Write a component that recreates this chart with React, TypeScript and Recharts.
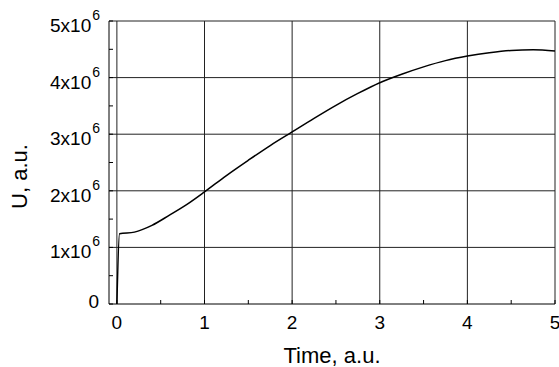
import { LineChart, Line, XAxis, YAxis, ReferenceLine } from 'recharts'

// time axis (a.u.) and signal U (units of 1e6)
const times = [0, 0.03, 0.2, 0.4, 0.6, 0.8, 1.0, 1.25, 1.5, 1.75, 2.0, 2.25, 2.5, 2.75, 3.0, 3.25, 3.5, 3.75, 4.0, 4.25, 4.5, 4.75, 5.0]
const uMillions = [0, 1.24, 1.27, 1.39, 1.57, 1.76, 1.98, 2.27, 2.54, 2.8, 3.04, 3.28, 3.51, 3.72, 3.91, 4.06, 4.19, 4.3, 4.38, 4.44, 4.48, 4.49, 4.47]

const xTicks = [0, 0.5, 1, 1.5, 2, 2.5, 3, 3.5, 4, 4.5, 5]
const yTicks = [0, 0.5e6, 1e6, 1.5e6, 2e6, 2.5e6, 3e6, 3.5e6, 4e6, 4.5e6, 5e6]
const xGrid = [0, 1, 2, 3, 4, 5]
const yGrid = [1e6, 2e6, 3e6, 4e6, 5e6]

const data = times.map((t, i) => ({ t, u: uMillions[i] * 1e6 }))

const FONT = '"Liberation Sans", Arial, sans-serif'
const GRID = '#222'

function XTick(props: any) {
  const { x, y, payload } = props
  const v = payload.value
  const major = Number.isInteger(v)
  return (
    <g>
      <line x1={x} x2={x} y1={y} y2={y - 4} stroke="#000" />
      {major && (
        <text x={x} y={y + 25} textAnchor="middle" fontSize={19} fontFamily={FONT} fill="#000">
          {v}
        </text>
      )}
    </g>
  )
}

function YTick(props: any) {
  const { x, y, payload } = props
  const v = payload.value
  const major = v % 1e6 === 0
  const n = v / 1e6
  return (
    <g>
      <line x1={x} x2={x + 4} y1={y} y2={y} stroke="#000" />
      {major && n === 0 && (
        <text x={x - 10} y={y + 4} textAnchor="end" fontSize={19} fontFamily={FONT} fill="#000">
          0
        </text>
      )}
      {major && n > 0 && (
        <text x={x - 9} y={y + 11} textAnchor="end" fontSize={19} fontFamily={FONT} fill="#000">
          <tspan>{n}x10</tspan>
          <tspan dx={1} dy={-12} fontSize={14}>6</tspan>
        </text>
      )}
    </g>
  )
}

export default function App() {
  return (
    <div style={{ position: 'absolute', left: 0, top: 0 }}>
      <LineChart width={559} height={367} data={data} margin={{ top: 21, right: 4, left: 14, bottom: 0 }}>
        {xGrid.map((v) => (
          <ReferenceLine key={'x' + v} x={v} stroke={GRID} strokeWidth={1} />
        ))}
        {yGrid.map((v) => (
          <ReferenceLine key={'y' + v} y={v} stroke={GRID} strokeWidth={1} />
        ))}
        <XAxis
          dataKey="t"
          type="number"
          domain={[-0.09, 5]}
          ticks={xTicks}
          interval={0}
          tickSize={0}
          tickMargin={0}
          tickLine={false}
          tick={<XTick />}
          axisLine={{ stroke: '#000' }}
          height={63}
          label={{
            content: (p: any) => {
              const vb = p.viewBox
              return (
                <text x={vb.x + vb.width / 2} y={vb.y + 59} textAnchor="middle" fontSize={22} fontFamily={FONT} fill="#000">
                  Time, a.u.
                </text>
              )
            },
          }}
        />
        <YAxis
          type="number"
          domain={[0, 5e6]}
          ticks={yTicks}
          interval={0}
          tickSize={0}
          tickMargin={0}
          tickLine={false}
          tick={<YTick />}
          axisLine={{ stroke: '#000' }}
          width={95}
          label={{
            content: (p: any) => {
              const vb = p.viewBox
              const cx = vb.x + 13
              const cy = vb.y + vb.height / 2 + 14
              return (
                <text x={cx} y={cy} transform={`rotate(-90, ${cx}, ${cy})`} textAnchor="middle" fontSize={22} fontFamily={FONT} fill="#000">
                  U, a.u.
                </text>
              )
            },
          }}
        />
        <Line type="monotone" dataKey="u" stroke="#000" strokeWidth={1.5} dot={false} isAnimationActive={false} />
      </LineChart>
    </div>
  )
}
